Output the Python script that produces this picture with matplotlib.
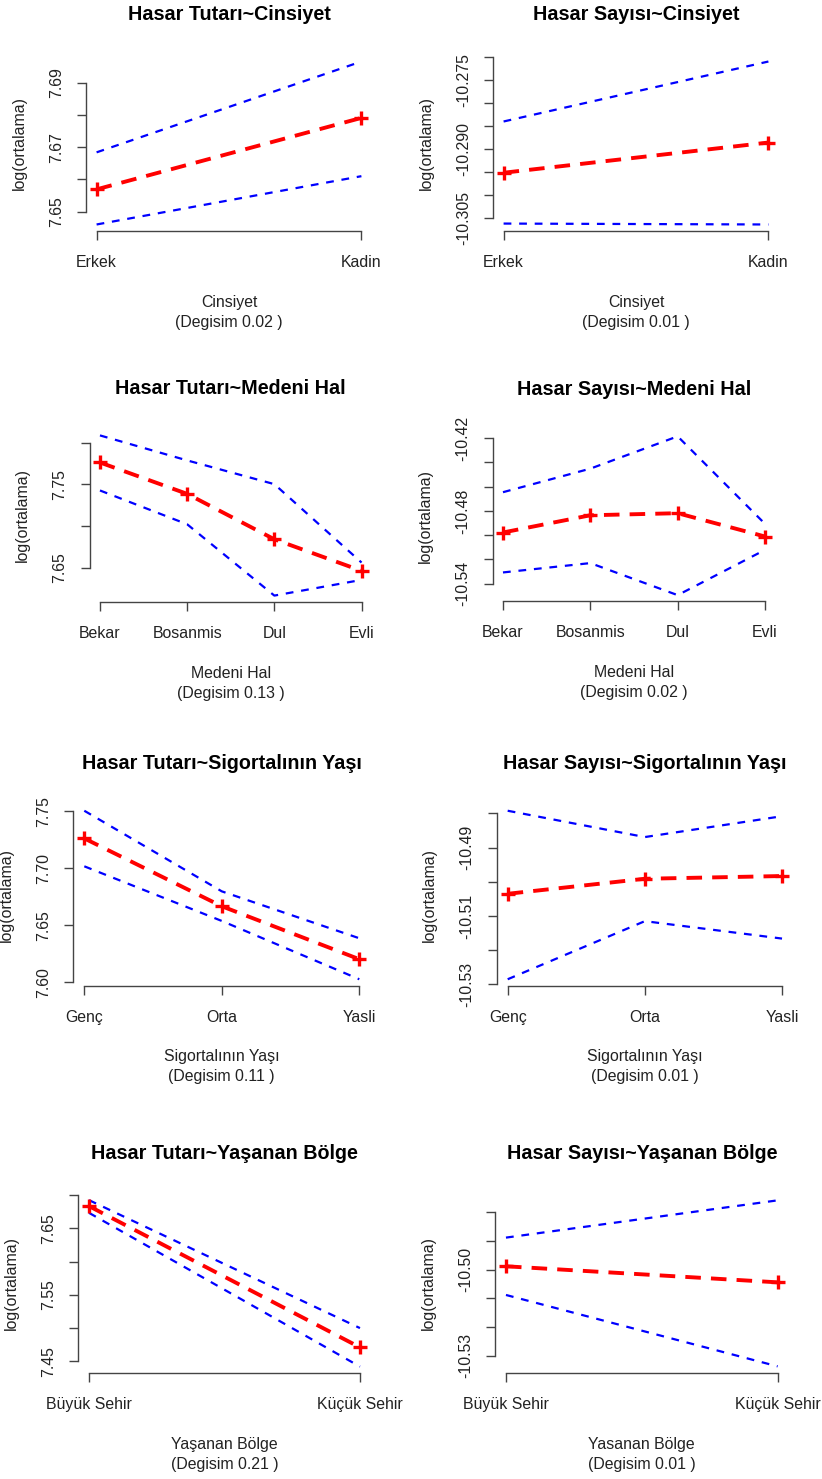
import numpy as np
import matplotlib
matplotlib.use("Agg")
import matplotlib.pyplot as plt

plt.rcParams['font.family'] = ['Liberation Sans', 'DejaVu Sans']

W, H = 822, 1479

# categories
cinsiyet = ["Erkek", "Kadin"]
medeni = ["Bekar", "Bosanmis", "Dul", "Evli"]
yas = ["Genç", "Orta", "Yasli"]
bolge = ["Büyük Sehir", "Küçük Sehir"]

# log(ortalama): estimate, upper band, lower band
tutar_cins = [7.6569, 7.6791]
tutar_cins_up = [7.6684, 7.6966]
tutar_cins_lo = [7.6460, 7.6610]
sayi_cins = [-10.2952, -10.2886]
sayi_cins_up = [-10.2840, -10.2709]
sayi_cins_lo = [-10.3063, -10.3065]

tutar_med = [7.7765, 7.7387, 7.6840, 7.6460]
tutar_med_up = [7.8091, 7.7790, 7.7504, 7.6560]
tutar_med_lo = [7.7428, 7.7021, 7.6162, 7.6351]
sayi_med = [-10.4978, -10.4836, -10.4819, -10.5011]
sayi_med_up = [-10.4646, -10.4452, -10.4186, -10.4907]
sayi_med_lo = [-10.5307, -10.5230, -10.5494, -10.5121]

tutar_yas = [7.7263, 7.6667, 7.6202]
tutar_yas_up = [7.7506, 7.6798, 7.6386]
tutar_yas_lo = [7.7018, 7.6538, 7.6026]
sayi_yas = [-10.5035, -10.4991, -10.4983]
sayi_yas_up = [-10.4792, -10.4869, -10.4808]
sayi_yas_lo = [-10.5285, -10.5115, -10.5166]

tutar_bol = [7.6835, 7.4710]
tutar_bol_up = [7.6925, 7.5000]
tutar_bol_lo = [7.6734, 7.4420]
sayi_bol = [-10.4988, -10.5044]
sayi_bol_up = [-10.4888, -10.4758]
sayi_bol_lo = [-10.5088, -10.5337]

# y ticks and labels
yt1 = [7.65, 7.66, 7.67, 7.68, 7.69]
yl1 = ["7.65", "", "7.67", "", "7.69"]
yt2 = [-10.305, -10.300, -10.295, -10.290, -10.285, -10.280, -10.275, -10.270]
yl2 = ["-10.305", "", "", "-10.290", "", "", "-10.275", ""]
yt3 = [7.65, 7.70, 7.75, 7.80]
yl3 = ["7.65", "", "7.75", ""]
yt4 = [-10.54, -10.52, -10.50, -10.48, -10.46, -10.44, -10.42]
yl4 = ["-10.54", "", "", "-10.48", "", "", "-10.42"]
yt5 = [7.60, 7.65, 7.70, 7.75]
yl5 = ["7.60", "7.65", "7.70", "7.75"]
yt6 = [-10.53, -10.52, -10.51, -10.50, -10.49, -10.48]
yl6 = ["-10.53", "", "-10.51", "", "-10.49", ""]
yt7 = [7.45, 7.50, 7.55, 7.60, 7.65, 7.70]
yl7 = ["7.45", "", "7.55", "", "7.65", ""]
yt8 = [-10.53, -10.52, -10.51, -10.50, -10.49, -10.48]
yl8 = ["-10.53", "", "", "-10.50", "", ""]

panels = [
    ("Hasar Tutarı~Cinsiyet", "Cinsiyet", "0.02", cinsiyet, tutar_cins, tutar_cins_up, tutar_cins_lo, yt1, yl1),
    ("Hasar Sayısı~Cinsiyet", "Cinsiyet", "0.01", cinsiyet, sayi_cins, sayi_cins_up, sayi_cins_lo, yt2, yl2),
    ("Hasar Tutarı~Medeni Hal", "Medeni Hal", "0.13", medeni, tutar_med, tutar_med_up, tutar_med_lo, yt3, yl3),
    ("Hasar Sayısı~Medeni Hal", "Medeni Hal", "0.02", medeni, sayi_med, sayi_med_up, sayi_med_lo, yt4, yl4),
    ("Hasar Tutarı~Sigortalının Yaşı", "Sigortalının Yaşı", "0.11", yas, tutar_yas, tutar_yas_up, tutar_yas_lo, yt5, yl5),
    ("Hasar Sayısı~Sigortalının Yaşı", "Sigortalının Yaşı", "0.01", yas, sayi_yas, sayi_yas_up, sayi_yas_lo, yt6, yl6),
    ("Hasar Tutarı~Yaşanan Bölge", "Yaşanan Bölge", "0.21", bolge, tutar_bol, tutar_bol_up, tutar_bol_lo, yt7, yl7),
    ("Hasar Sayısı~Yaşanan Bölge", "Yasanan Bölge", "0.01", bolge, sayi_bol, sayi_bol_up, sayi_bol_lo, yt8, yl8),
]

# plot regions in pixels: left, right, top, bottom
rects = [
    (86, 372, 55, 231), (493, 779, 55, 231),
    (89.5, 372, 429, 602), (492.5, 775.5, 430, 601.5),
    (73.3, 370.3, 804, 986), (496.7, 793, 804, 986),
    (78.2, 370.8, 1193.5, 1373.3), (495.1, 788.5, 1193.7, 1373),
]

PX = 0.72  # points per pixel at dpi 100
FS = 11.4
TXT = "#222222"
AX = "#444444"

fig = plt.figure(figsize=(W / 100, H / 100), dpi=100)

for (title, xlab, deg, cats, mid, up, lo, yt, yl), (l, r, t, b) in zip(panels, rects):
    ax = fig.add_axes([l / W, 1 - b / H, (r - l) / W, (b - t) / H])
    x = np.arange(1, len(cats) + 1)
    n = len(cats)
    ax.plot(x, up, color="#0000FF", lw=1.6, dashes=(3.5, 3.5))
    ax.plot(x, lo, color="#0000FF", lw=1.6, dashes=(3.5, 3.5))
    ax.plot(x, mid, color="#FF0000", lw=2.8, dashes=(4.0, 2.6))
    ax.plot(x, mid, ls="none", marker="+", ms=9.5, mew=2.4, color="#FF0000")

    ext = 0.04 * (n - 1)
    ax.set_xlim(1 - ext, n + ext)
    allv = np.concatenate([mid, up, lo])
    rng = allv.max() - allv.min()
    ax.set_ylim(allv.min() - 0.04 * rng, allv.max() + 0.04 * rng)

    ax.set_xticks(x)
    ax.set_xticklabels(cats, fontsize=FS, color=TXT, va="center")
    ax.set_yticks(yt)
    ax.set_yticklabels(yl, fontsize=FS, color=TXT, rotation=90, ha="center", va="center")
    ax.tick_params(axis="both", direction="out", length=9.3 * PX, width=1.0, color=AX)
    ax.tick_params(axis="x", pad=22.2 * PX)
    ax.tick_params(axis="y", pad=20.2 * PX)

    for s in ("top", "right"):
        ax.spines[s].set_visible(False)
    ax.spines["left"].set_bounds(yt[0], yt[-1])
    ax.spines["bottom"].set_bounds(1, n)
    for s in ("left", "bottom"):
        ax.spines[s].set_color(AX)
        ax.spines[s].set_linewidth(1.0)

    ax.annotate(title, xy=(0.5, 1), xycoords="axes fraction", xytext=(0, 40 * PX),
                textcoords="offset points", ha="center", va="center",
                fontsize=14.2, fontweight="bold", color="black")
    ax.annotate(xlab, xy=(0.5, 0), xycoords="axes fraction", xytext=(0, -71 * PX),
                textcoords="offset points", ha="center", va="center", fontsize=FS, color=TXT)
    ax.annotate(f"(Degisim {deg} )", xy=(0.5, 0), xycoords="axes fraction", xytext=(0, -91 * PX),
                textcoords="offset points", ha="center", va="center", fontsize=FS, color=TXT)
    ax.annotate("log(ortalama)", xy=(0, 0.5), xycoords="axes fraction", xytext=(-67 * PX, 0),
                textcoords="offset points", ha="center", va="center", rotation=90,
                fontsize=FS, color=TXT)

fig.savefig("out.png", dpi=100)
